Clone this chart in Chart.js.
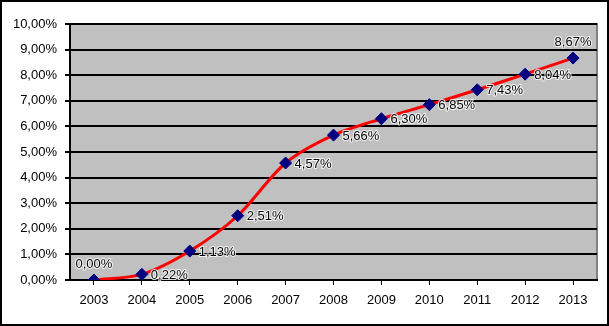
<!DOCTYPE html>
<html>
<head>
<meta charset="utf-8">
<script src="https://cdn.jsdelivr.net/npm/chart.js@4"></script>
<style>
  html, body { margin: 0; padding: 0; background: #fff; }
  #wrap { width: 609px; height: 326px; box-sizing: border-box; border: 2px solid #000; position: relative; }
  #growthChart { position: absolute; left: -2px; top: -2px; }
</style>
</head>
<body>
<div id="wrap"><canvas id="growthChart" width="609" height="326"></canvas></div>
<script>
const years = ['2003', '2004', '2005', '2006', '2007', '2008', '2009', '2010', '2011', '2012', '2013'];
const rates = [0.00, 0.22, 1.13, 2.51, 4.57, 5.66, 6.30, 6.85, 7.43, 8.04, 8.67];
const yTicks = [0, 1, 2, 3, 4, 5, 6, 7, 8, 9, 10];

function pct(v) {
    return v.toFixed(2).replace('.', ',') + '%';
}

// grey plot area + grey frame on top/right
const plotBg = {
    id: 'plotBg',
    beforeDraw(chart) {
        const a = chart.chartArea, c = chart.ctx;
        c.save();
        c.fillStyle = '#c0c0c0';
        c.fillRect(a.left, a.top, a.right - a.left, a.bottom - a.top);
        c.strokeStyle = '#808080';
        c.lineWidth = 2;
        c.beginPath();
        c.moveTo(a.left, a.top);
        c.lineTo(a.right, a.top);
        c.lineTo(a.right, a.bottom);
        c.stroke();
        c.restore();
    }
};

// value labels next to the points
const valueLabels = {
    id: 'valueLabels',
    afterDatasetsDraw(chart) {
        const c = chart.ctx;
        const pts = chart.getDatasetMeta(0).data;
        c.save();
        c.font = '13px "Liberation Sans", Arial, sans-serif';
        c.textBaseline = 'middle';
        c.lineJoin = 'round';
        pts.forEach((p, i) => {
            const txt = pct(rates[i]);
            let x = p.x + 9, y = p.y + 1;
            c.textAlign = 'left';
            if (i === 0 || i === pts.length - 1) {
                c.textAlign = 'center';
                x = p.x;
                y = p.y - 16;
            }
            c.strokeStyle = 'rgba(255,255,255,0.85)';
            c.lineWidth = 2;
            c.strokeText(txt, x, y);
            c.fillStyle = '#000';
            c.fillText(txt, x, y);
        });
        c.restore();
    }
};

const ctx = document.getElementById('growthChart').getContext('2d');

new Chart(ctx, {
    type: 'line',
    data: {
        labels: years,
        datasets: [{
            data: rates,
            borderColor: '#ff0000',
            borderWidth: 3,
            tension: 0.3,
            pointStyle: 'rectRot',
            pointRadius: 6,
            pointBackgroundColor: '#000080',
            pointBorderColor: '#000080',
            pointBorderWidth: 1
        }]
    },
    options: {
        responsive: false,
        animation: false,
        layout: { padding: { top: 24, right: 12, left: 0, bottom: 0 } },
        plugins: {
            legend: { display: false },
            tooltip: { enabled: false }
        },
        scales: {
            x: {
                offset: true,
                grid: {
                    drawOnChartArea: false,
                    color: '#000',
                    lineWidth: 1,
                    tickLength: 5
                },
                border: { color: '#000', width: 2 },
                ticks: {
                    color: '#000',
                    padding: 8,
                    font: { family: '"Liberation Sans", Arial, sans-serif', size: 13 }
                },
                afterFit(scale) { scale.height = 46; }
            },
            y: {
                min: 0,
                max: 10,
                afterBuildTicks(scale) {
                    scale.ticks = yTicks.map(v => ({ value: v }));
                },
                grid: {
                    color: '#000',
                    lineWidth: 2,
                    tickLength: 5
                },
                border: { color: '#000', width: 2 },
                ticks: {
                    color: '#000',
                    padding: 8,
                    font: { family: '"Liberation Sans", Arial, sans-serif', size: 13 },
                    callback: v => pct(v)
                },
                afterFit(scale) { scale.width = 70; }
            }
        }
    },
    plugins: [plotBg, valueLabels]
});
</script>
</body>
</html>
